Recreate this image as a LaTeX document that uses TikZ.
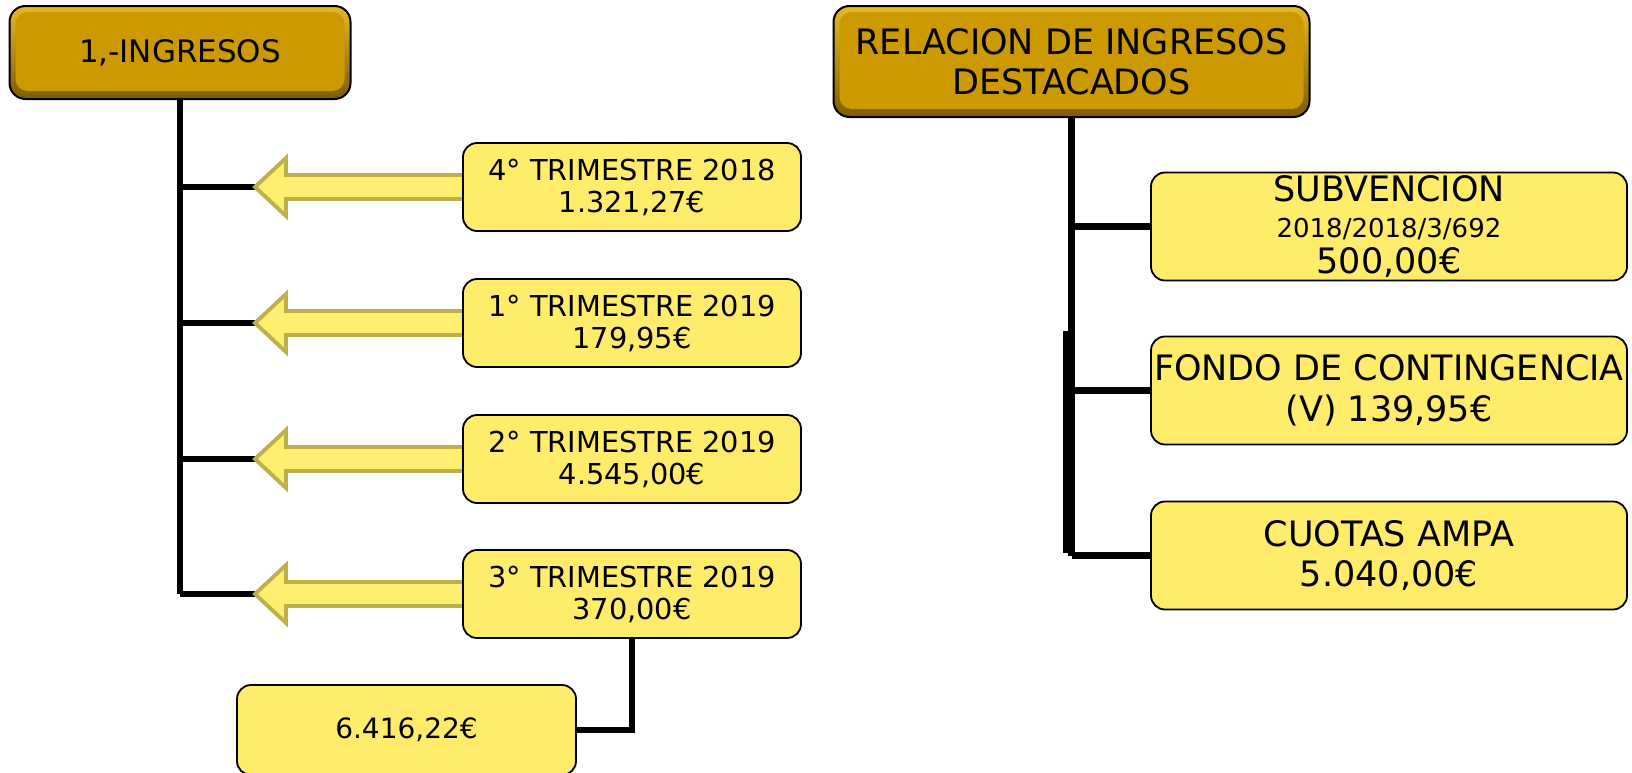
\documentclass[tikz,border=0pt]{standalone}
\usepackage{fontspec}
\setmainfont{DejaVu Sans}
\definecolor{gold}{HTML}{CC9900}
\definecolor{goldlight}{HTML}{E8B82A}
\definecolor{golddark}{HTML}{7E5C00}
\definecolor{boxyellow}{HTML}{FFEC6A}
\definecolor{arrowfill}{HTML}{FFEE70}
\definecolor{arrowline}{HTML}{BDB04A}
\pgfdeclarelayer{bg}
\pgfsetlayers{bg,main}
\tikzset{
  conn/.style={line width=3.3pt, black},
  hdr/.style={draw=black, line width=1pt, rounded corners=8pt,
    top color=goldlight, bottom color=golddark, align=center, inner sep=0pt,
    path picture={\fill[gold, rounded corners=6pt]
      ([shift={(3pt,-3pt)}]path picture bounding box.north west) rectangle
      ([shift={(-3pt,4pt)}]path picture bounding box.south east);}},
  ybox/.style={draw=black, line width=0.9pt, rounded corners=7pt,
    fill=boxyellow, align=center, inner sep=0pt},
  lbox/.style={ybox, minimum width=169pt, minimum height=44pt,
    font=\fontsize{14.4}{16}\selectfont},
  rbox/.style={ybox, minimum width=238pt, minimum height=54pt},
  barrow/.style={fill=arrowfill, draw=arrowline, line width=1.9pt, line join=miter},
}
\begin{document}
\begin{tikzpicture}[x=0.5pt,y=-0.5pt]
\useasboundingbox (0,0) rectangle (1632,772);

% headers
\node[hdr, minimum width=170.5pt, minimum height=46.5pt,
  font=\fontsize{15.5}{18}\selectfont] (h1) at (180,52.5) {1,-INGRESOS};
\node[hdr, minimum width=238pt, minimum height=55.5pt,
  font=\fontsize{17.5}{19.8}\selectfont] (h2) at (1071.5,61.5)
  {RELACION DE INGRESOS\\DESTACADOS};

% left boxes
\node[lbox] (b1) at (632,187) {4° TRIMESTRE 2018\\1.321,27€};
\node[lbox] (b2) at (632,323) {1° TRIMESTRE 2019\\179,95€};
\node[lbox] (b3) at (632,459) {2° TRIMESTRE 2019\\4.545,00€};
\node[lbox] (b4) at (632,594) {3° TRIMESTRE 2019\\370,00€};
\node[ybox, minimum width=169.5pt, minimum height=45pt,
  font=\fontsize{14}{16}\selectfont] (tot) at (406.5,730) {6.416,22€};

% right boxes
\node[rbox, font=\fontsize{17.5}{18}\selectfont] (r1) at (1389,226.5)
  {SUBVENCION\\{\fontsize{13}{18}\selectfont 2018/2018/3/692}\\500,00€};
\node[rbox, font=\fontsize{17.5}{20.8}\selectfont] (r2) at (1389,390.5)
  {FONDO DE CONTINGENCIA\\(V) 139,95€};
\node[rbox, font=\fontsize{17.5}{19.8}\selectfont] (r3) at (1389,555.5)
  {CUOTAS AMPA\\5.040,00€};

% arrow tips
\coordinate (a1) at (255,187);
\coordinate (a2) at (255,323);
\coordinate (a3) at (255,459);
\coordinate (a4) at (255,594);
\coordinate (d1) at (1066,331);
\coordinate (d2) at (1066,553);

\begin{pgfonlayer}{bg}
  % left tree
  \draw[conn] (h1.south) -- (h1.south |- a4);
  \foreach \i in {1,2,3,4} {
    \draw[conn] (h1.south |- a\i) -- (a\i);
  }
  \foreach \i in {1,2,3,4} {
    \draw[barrow] (a\i) -- ++(31,-29) -- ++(0,17) -- ++(182,0) -- ++(0,24)
      -- ++(-182,0) -- ++(0,17) -- cycle;
  }
  \draw[conn] (b4.south) |- (tot.east);
  % right tree
  \draw[conn] (h2.south) -- (h2.south |- r3.west);
  \draw[conn] (h2.south |- r1.west) -- (r1.west);
  \draw[conn] (h2.south |- r2.west) -- (r2.west);
  \draw[conn] (h2.south |- r3.west) -- (r3.west);
  \draw[conn] (d1) -- (d2);
\end{pgfonlayer}
\end{tikzpicture}
\end{document}
